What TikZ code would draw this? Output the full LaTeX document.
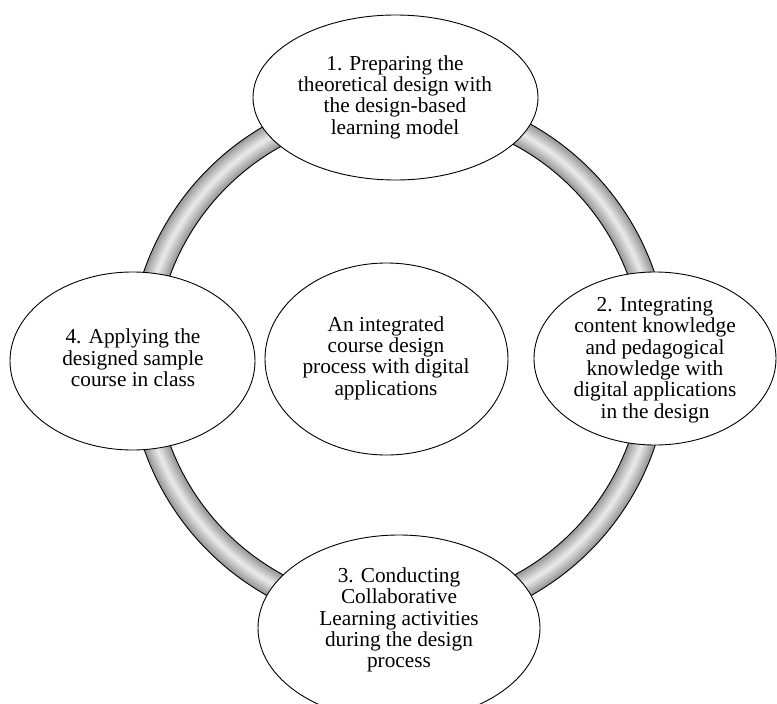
\documentclass[tikz,border=0pt]{standalone}
\usepackage{fontspec}
\setmainfont{Liberation Serif}
\usetikzlibrary{shapes.geometric}
\tikzset{
  bub/.style={draw, ellipse, fill=white, line width=0.9pt, inner sep=0pt, outer sep=0pt},
  txt/.style={align=center, font=\fontsize{21.3}{21.3}\selectfont, inner sep=0pt},
  ringline/.style={line width=0.9pt}
}
\begin{document}
\begin{tikzpicture}[x=1pt,y=-1pt]
\useasboundingbox (0,0) rectangle (777,704);
\clip (0,0) rectangle (777,704);
\coordinate (rc) at (399,360);
\foreach \w/\c in {26/40,23/36,20/32,17/28,14/24,11/20,8/16,5/12,2/9}{
  \draw[line width=\w pt, black!\c] (rc) circle[radius=257pt];
}
\draw[ringline] (rc) circle[radius=270pt] (rc) circle[radius=244pt];

\node[bub, minimum width=285pt, minimum height=165pt] (e1) at (395.5,97.5) {};
\node[bub, minimum width=242pt, minimum height=173pt] (e2) at (655,358.5) {};
\node[bub, minimum width=282pt, minimum height=186pt] (e3) at (399,628) {};
\node[bub, minimum width=245pt, minimum height=178pt] (e4) at (132.5,361) {};
\node[bub, minimum width=243pt, minimum height=192pt] (e0) at (386.5,359) {};

\node[txt] (t1) at (395,97) {1. Preparing the\\theoretical design with\\the design-based\\learning model};
\node[txt] (t2) at (655,360) {2. Integrating\\content knowledge\\and pedagogical\\knowledge with\\digital applications\\in the design};
\node[txt] (t3) at (399,620) {3. Conducting\\Collaborative\\Learning activities\\during the design\\process};
\node[txt] (t4) at (133,358) {4. Applying the\\designed sample\\course in class};
\node[txt] (t0) at (386,358) {An integrated\\course design\\process with digital\\applications};
\end{tikzpicture}
\end{document}
